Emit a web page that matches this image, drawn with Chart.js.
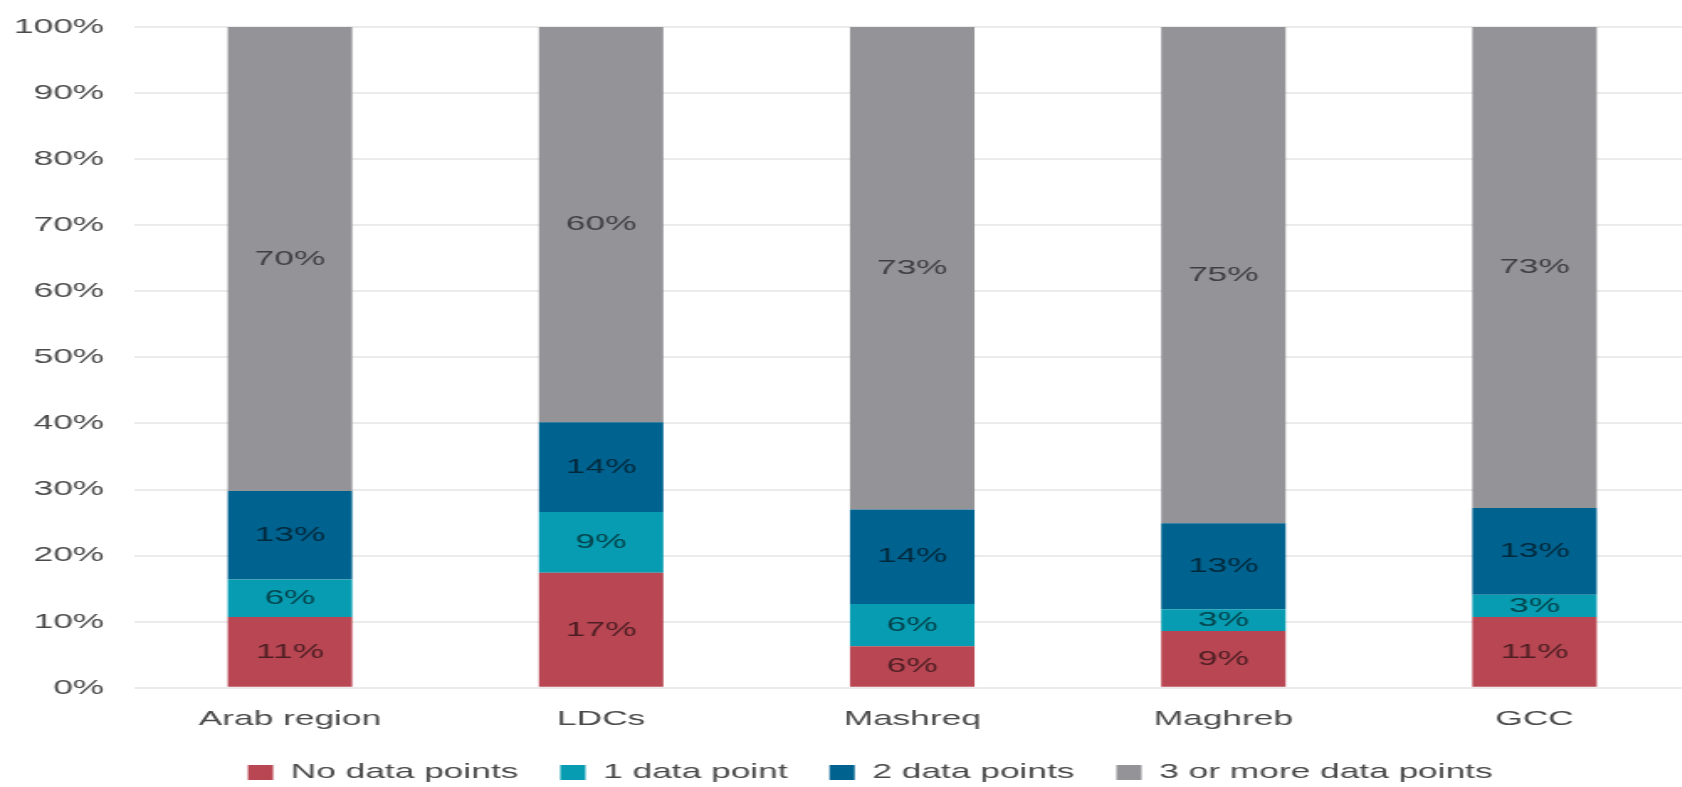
<!DOCTYPE html>
<html>
<head>
<meta charset="utf-8">
<script src="https://cdn.jsdelivr.net/npm/chart.js@4.4.1/dist/chart.umd.min.js"></script>
<style>
    html, body { margin: 0; padding: 0; background: #fff; overflow: hidden; }
    /* the original picture is stretched sideways, so the canvas is too */
    #wrap { width: 1007px; height: 787px; transform: scaleX(1.68); transform-origin: 0 0; }
</style>
</head>
<body>
<div id="wrap"><canvas id="coverageChart"></canvas></div>
<script>
const categories = ['Arab region', 'LDCs', 'Mashreq', 'Maghreb', 'GCC'];
const seriesNames = ['No data points', '1 data point', '2 data points', '3 or more data points'];
const noDataPoints = [10.7, 17.4, 6.3, 8.6, 10.7];
const oneDataPoint = [5.7, 9.2, 6.4, 3.3, 3.4];
const twoDataPoints = [13.4, 13.6, 14.3, 13.0, 13.1];
const threeOrMore = [70.2, 59.8, 73.0, 75.1, 72.8];
const yTickValues = [0, 10, 20, 30, 40, 50, 60, 70, 80, 90, 100];

const FONT = '"Liberation Sans", Arial, sans-serif';
const colors = ['#b84753', '#079cb1', '#00628f', '#949498'];

// Label persen di tengah setiap segmen
const segmentLabels = {
    id: 'segmentLabels',
    afterDatasetsDraw(chart) {
        const ctx = chart.ctx;
        ctx.save();
        ctx.font = '21px ' + FONT;
        ctx.fillStyle = 'rgba(0, 0, 0, 0.58)';
        ctx.textAlign = 'center';
        ctx.textBaseline = 'middle';
        chart.data.datasets.forEach((ds, i) => {
            chart.getDatasetMeta(i).data.forEach((bar, j) => {
                ctx.fillText(Math.round(ds.data[j]) + '%', bar.x, (bar.y + bar.base) / 2);
            });
        });
        ctx.restore();
    }
};

// Legenda di gambar asli sedikit bergeser ke kanan
const legendShift = {
    id: 'legendShift',
    afterLayout(chart) {
        chart.legend.left += 15;
        chart.legend.right += 15;
    }
};

const values = [noDataPoints, oneDataPoint, twoDataPoints, threeOrMore];

new Chart(document.getElementById('coverageChart'), {
    type: 'bar',
    data: {
        labels: categories,
        datasets: values.map((data, i) => ({
            label: seriesNames[i],
            data: data,
            backgroundColor: colors[i],
            borderWidth: 0,
            barPercentage: 0.4,
            categoryPercentage: 1,
        })),
    },
    options: {
        responsive: true,
        maintainAspectRatio: false,
        animation: false,
        layout: {
            padding: { top: 27, right: 1, bottom: -6, left: 0 }
        },
        plugins: {
            legend: {
                position: 'bottom',
                labels: {
                    boxWidth: 15,
                    boxHeight: 15,
                    padding: 25,
                    color: '#4a4a4a',
                    font: { family: FONT, size: 21 }
                }
            },
            tooltip: { enabled: false }
        },
        scales: {
            x: {
                stacked: true,
                grid: { display: false, drawTicks: false },
                border: { display: false },
                ticks: {
                    color: '#4a4a4a',
                    padding: 19,
                    font: { family: FONT, size: 21 }
                },
                afterFit: function (axis) {
                    axis.height -= 14;
                }
            },
            y: {
                stacked: true,
                min: 0,
                max: 100,
                border: { display: false },
                grid: {
                    color: '#ebebeb',
                    lineWidth: 2,
                    drawTicks: false
                },
                afterBuildTicks: function (axis) {
                    axis.ticks = yTickValues.map(v => ({ value: v }));
                },
                ticks: {
                    color: '#4a4a4a',
                    padding: 18,
                    font: { family: FONT, size: 21 },
                    callback: function (value) {
                        return value + '%';
                    }
                },
                afterFit: function (axis) {
                    axis.width = 80;
                    axis.paddingTop = 0;
                    axis.paddingBottom = 0;
                }
            }
        }
    },
    plugins: [segmentLabels, legendShift]
});
</script>
</body>
</html>
